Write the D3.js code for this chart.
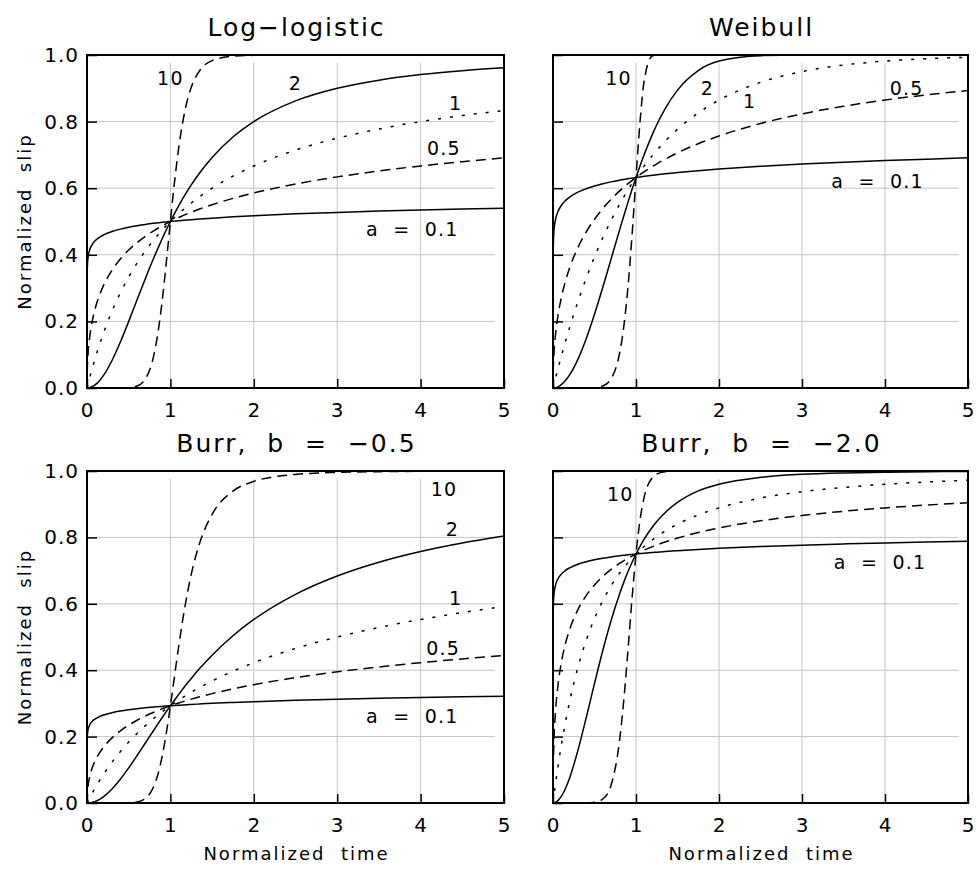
<!DOCTYPE html>
<html>
<head>
<meta charset="utf-8">
<script src="https://cdn.jsdelivr.net/npm/d3@7"></script>
<style>
  html, body { margin: 0; padding: 0; background: #fff; }
  svg text { font-family: "DejaVu Sans", "Liberation Sans", sans-serif; fill: #000; }
</style>
</head>
<body>
<svg id="chart" width="979" height="871"></svg>
<script>
// ---------------- data ----------------
const times = [0, 0.001, 0.01, 0.03, 0.06, 0.1, 0.15, 0.2, 0.3, 0.4, 0.5, 0.6, 0.7, 0.8, 0.85, 0.9, 0.95, 1, 1.05, 1.1, 1.2, 1.25, 1.35, 1.5, 1.75, 2, 2.5, 3, 3.5, 4, 4.5, 5];

const xTicks = [0, 1, 2, 3, 4, 5];
const yTicks = [0, 0.2, 0.4, 0.6, 0.8, 1.0];

const panelTitles = ["Log\u2212logistic", "Weibull", "Burr,  b  =  \u22120.5", "Burr,  b  =  \u22122.0"];
const shapeParams = ["0.1", "0.5", "1", "2", "10"];

// Log-logistic
const llA01 = [0, 0.3339, 0.3869, 0.4132, 0.4301, 0.4427, 0.4527, 0.4598, 0.4699, 0.4771, 0.4827, 0.4872, 0.4911, 0.4944, 0.4959, 0.4974, 0.4987, 0.5, 0.5012, 0.5024, 0.5046, 0.5056, 0.5075, 0.5101, 0.5140, 0.5173, 0.5229, 0.5274, 0.5313, 0.5346, 0.5375, 0.5401];
const llA05 = [0, 0.0306, 0.0909, 0.1476, 0.1967, 0.2402, 0.2792, 0.3090, 0.3539, 0.3874, 0.4142, 0.4365, 0.4555, 0.4721, 0.4797, 0.4868, 0.4936, 0.5, 0.5061, 0.5119, 0.5228, 0.5279, 0.5374, 0.5505, 0.5695, 0.5858, 0.6126, 0.6340, 0.6517, 0.6667, 0.6796, 0.6910];
const llA1  = [0, 0.0010, 0.0099, 0.0291, 0.0566, 0.0909, 0.1304, 0.1667, 0.2308, 0.2857, 0.3333, 0.3750, 0.4118, 0.4444, 0.4595, 0.4737, 0.4872, 0.5, 0.5122, 0.5238, 0.5455, 0.5556, 0.5745, 0.6, 0.6364, 0.6667, 0.7143, 0.75, 0.7778, 0.8, 0.8182, 0.8333];
const llA2  = [0, 0, 0.0001, 0.0009, 0.0036, 0.0099, 0.0220, 0.0385, 0.0826, 0.1379, 0.2, 0.2647, 0.3289, 0.3902, 0.4194, 0.4475, 0.4744, 0.5, 0.5244, 0.5475, 0.5902, 0.6098, 0.6457, 0.6923, 0.7538, 0.8, 0.8621, 0.9, 0.9245, 0.9412, 0.9529, 0.9615];
const llA10 = [0, 0, 0, 0, 0, 0, 0, 0, 0, 0.0001, 0.0010, 0.0060, 0.0274, 0.0970, 0.1645, 0.2586, 0.3745, 0.5, 0.6196, 0.7217, 0.8610, 0.9030, 0.9526, 0.9830, 0.9963, 0.9990, 1, 1, 1, 1, 1, 1];

// Weibull
const wbA01 = [0, 0.3942, 0.4679, 0.5055, 0.5299, 0.5481, 0.5627, 0.5731, 0.5880, 0.5985, 0.6066, 0.6133, 0.6190, 0.6239, 0.6262, 0.6283, 0.6302, 0.6321, 0.6339, 0.6356, 0.6388, 0.6403, 0.6432, 0.6470, 0.6527, 0.6576, 0.6657, 0.6724, 0.6780, 0.6829, 0.6872, 0.6911];
const wbA05 = [0, 0.0311, 0.0952, 0.1590, 0.2172, 0.2711, 0.3211, 0.3606, 0.4217, 0.4687, 0.5069, 0.5391, 0.5669, 0.5911, 0.6023, 0.6128, 0.6227, 0.6321, 0.6411, 0.6496, 0.6656, 0.6731, 0.6871, 0.7062, 0.7336, 0.7569, 0.7942, 0.8231, 0.8460, 0.8647, 0.8801, 0.8931];
const wbA1  = [0, 0.0010, 0.0100, 0.0296, 0.0582, 0.0952, 0.1393, 0.1813, 0.2592, 0.3297, 0.3935, 0.4512, 0.5034, 0.5507, 0.5726, 0.5934, 0.6133, 0.6321, 0.6501, 0.6671, 0.6988, 0.7135, 0.7408, 0.7769, 0.8262, 0.8647, 0.9179, 0.9502, 0.9698, 0.9817, 0.9889, 0.9933];
const wbA2  = [0, 0, 0.0001, 0.0009, 0.0036, 0.0100, 0.0223, 0.0392, 0.0861, 0.1479, 0.2212, 0.3023, 0.3874, 0.4727, 0.5144, 0.5551, 0.5944, 0.6321, 0.6679, 0.7018, 0.7631, 0.7904, 0.8384, 0.8946, 0.9532, 0.9817, 0.9981, 0.9999, 1, 1, 1, 1];
const wbA10 = [0, 0, 0, 0, 0, 0, 0, 0, 0, 0.0001, 0.0010, 0.0060, 0.0278, 0.1018, 0.1787, 0.2944, 0.4505, 0.6321, 0.8039, 0.9253, 0.9980, 0.9999, 1, 1, 1, 1, 1, 1, 1, 1, 1, 1];

// Burr, b = -0.5
const bu05A01 = [0, 0.1838, 0.2170, 0.2340, 0.2451, 0.2535, 0.2602, 0.2650, 0.2719, 0.2769, 0.2807, 0.2839, 0.2866, 0.2890, 0.2900, 0.2910, 0.2920, 0.2929, 0.2938, 0.2946, 0.2961, 0.2969, 0.2982, 0.3001, 0.3028, 0.3053, 0.3093, 0.3126, 0.3154, 0.3178, 0.3200, 0.3219];
const bu05A05 = [0, 0.0154, 0.0465, 0.0767, 0.1037, 0.1284, 0.1510, 0.1687, 0.1962, 0.2173, 0.2346, 0.2493, 0.2621, 0.2735, 0.2787, 0.2837, 0.2884, 0.2929, 0.2972, 0.3014, 0.3092, 0.3129, 0.3199, 0.3295, 0.3439, 0.3564, 0.3776, 0.3950, 0.4098, 0.4226, 0.4340, 0.4441];
const bu05A1  = [0, 0.0005, 0.0050, 0.0147, 0.0287, 0.0465, 0.0675, 0.0871, 0.1229, 0.1548, 0.1835, 0.2094, 0.2330, 0.2546, 0.2648, 0.2745, 0.2839, 0.2929, 0.3016, 0.3099, 0.3258, 0.3333, 0.3477, 0.3675, 0.3970, 0.4226, 0.4655, 0.5, 0.5286, 0.5528, 0.5736, 0.5918];
const bu05A2  = [0, 0, 0, 0.0004, 0.0018, 0.0050, 0.0111, 0.0194, 0.0422, 0.0715, 0.1056, 0.1425, 0.1808, 0.2191, 0.2381, 0.2567, 0.2750, 0.2929, 0.3103, 0.3273, 0.3598, 0.3753, 0.4048, 0.4453, 0.5039, 0.5528, 0.6286, 0.6838, 0.7253, 0.7575, 0.7831, 0.8039];
const bu05A10 = [0, 0, 0, 0, 0, 0, 0, 0, 0, 0.0001, 0.0005, 0.0030, 0.0138, 0.0497, 0.0859, 0.1389, 0.2091, 0.2929, 0.3832, 0.4725, 0.6271, 0.6886, 0.7823, 0.8694, 0.9392, 0.9688, 0.9898, 0.9959, 0.9981, 0.9990, 0.9995, 0.9997];

// Burr, b = -2.0
const bu2A01 = [0, 0.5563, 0.6241, 0.6557, 0.6753, 0.6894, 0.7005, 0.7082, 0.7190, 0.7266, 0.7324, 0.7371, 0.7410, 0.7444, 0.7459, 0.7474, 0.7487, 0.75, 0.7512, 0.7524, 0.7545, 0.7556, 0.7575, 0.7600, 0.7638, 0.7670, 0.7724, 0.7767, 0.7803, 0.7834, 0.7861, 0.7885];
const bu2A05 = [0, 0.0603, 0.1736, 0.2735, 0.3547, 0.4228, 0.4804, 0.5225, 0.5825, 0.6248, 0.6569, 0.6825, 0.7036, 0.7214, 0.7293, 0.7367, 0.7435, 0.75, 0.7561, 0.7618, 0.7722, 0.7771, 0.7860, 0.7980, 0.8147, 0.8284, 0.8499, 0.8660, 0.8787, 0.8889, 0.8974, 0.9045];
const bu2A1  = [0, 0.0020, 0.0197, 0.0574, 0.1100, 0.1736, 0.2439, 0.3056, 0.4083, 0.4898, 0.5556, 0.6094, 0.6540, 0.6914, 0.7078, 0.7230, 0.7370, 0.75, 0.7620, 0.7732, 0.7934, 0.8025, 0.8189, 0.84, 0.8678, 0.8889, 0.9184, 0.9375, 0.9506, 0.96, 0.9669, 0.9722];
const bu2A2  = [0, 0, 0.0002, 0.0018, 0.0072, 0.0197, 0.0435, 0.0754, 0.1583, 0.2568, 0.36, 0.4593, 0.5496, 0.6282, 0.6630, 0.6948, 0.7237, 0.75, 0.7738, 0.7953, 0.8320, 0.8477, 0.8745, 0.9053, 0.9401, 0.96, 0.9810, 0.99, 0.9943, 0.9965, 0.9978, 0.9985];
const bu2A10 = [0, 0, 0, 0, 0, 0, 0, 0, 0, 0.0002, 0.0020, 0.0120, 0.0541, 0.1845, 0.3020, 0.4502, 0.6087, 0.75, 0.8553, 0.9226, 0.9807, 0.9906, 0.9978, 0.9997, 1, 1, 1, 1, 1, 1, 1, 1];

// curve labels: [text, time, slip]
const llLabels  = [["10", 1.0, 0.93], ["2", 2.5, 0.915], ["1", 4.42, 0.855], ["0.5", 4.28, 0.72], ["a  =  0.1", 3.9, 0.475]];
const wbLabels  = [["10", 0.79, 0.93], ["2", 1.86, 0.9], ["1", 2.37, 0.86], ["0.5", 4.26, 0.9], ["a  =  0.1", 3.91, 0.62]];
const bu05Labels = [["10", 4.28, 0.945], ["2", 4.38, 0.825], ["1", 4.42, 0.615], ["0.5", 4.27, 0.465], ["a  =  0.1", 3.9, 0.26]];
const bu2Labels = [["10", 0.81, 0.93], ["a  =  0.1", 3.94, 0.725]];

// ---------------- layout ----------------
const panels = [
  { title: panelTitles[0], series: [llA01, llA05, llA1, llA2, llA10], labels: llLabels, x0: 87, x1: 504, y0: 55, y1: 388, left: true, bottom: false },
  { title: panelTitles[1], series: [wbA01, wbA05, wbA1, wbA2, wbA10], labels: wbLabels, x0: 553, x1: 968, y0: 55, y1: 388, left: false, bottom: false },
  { title: panelTitles[2], series: [bu05A01, bu05A05, bu05A1, bu05A2, bu05A10], labels: bu05Labels, x0: 87, x1: 504, y0: 471, y1: 803, left: true, bottom: true },
  { title: panelTitles[3], series: [bu2A01, bu2A05, bu2A1, bu2A2, bu2A10], labels: bu2Labels, x0: 553, x1: 968, y0: 471, y1: 803, left: false, bottom: true }
];
// line style per shape parameter a = 0.1, 0.5, 1, 2, 10
const dashes = [null, "10,6", "3,9", null, "10,6"];

const svg = d3.select("#chart");

panels.forEach(p => {
  const x = d3.scaleLinear().domain([0, 5]).range([p.x0, p.x1]);
  const y = d3.scaleLinear().domain([0, 1]).range([p.y1, p.y0]);
  const g = svg.append("g");

  // grid
  g.append("g").selectAll("line").data(xTicks.slice(1, -1)).join("line")
    .attr("x1", d => x(d)).attr("x2", d => x(d))
    .attr("y1", y(0)).attr("y2", y(1) + 8)
    .attr("stroke", "#c4c4c4").attr("stroke-width", 1);
  g.append("g").selectAll("line").data(yTicks.slice(1, -1)).join("line")
    .attr("x1", x(0)).attr("x2", x(5) - 9)
    .attr("y1", d => y(d)).attr("y2", d => y(d))
    .attr("stroke", "#c4c4c4").attr("stroke-width", 1);

  // curves
  const line = d3.line().x((d, i) => x(times[i])).y(d => y(d)).curve(d3.curveMonotoneX);
  p.series.forEach((s, k) => {
    g.append("path").datum(s).attr("d", line)
      .attr("fill", "none").attr("stroke", "#000").attr("stroke-width", 1.5)
      .attr("stroke-dasharray", dashes[k]);
  });

  // axes
  const xAxis = d3.axisBottom(x).tickValues(xTicks).tickSize(-9).tickPadding(15).tickFormat(d3.format("d"));
  const gx = g.append("g").attr("transform", `translate(0,${y(0)})`).call(xAxis);
  const yAxis = d3.axisLeft(y).tickValues(yTicks).tickSize(-10).tickPadding(8)
    .tickFormat(p.left ? d3.format(".1f") : () => "");
  const gy = g.append("g").attr("transform", `translate(${x(0)},0)`).call(yAxis);
  [gx, gy].forEach(a => {
    a.select(".domain").remove();
    a.selectAll(".tick line").attr("stroke", "#000").attr("stroke-width", 1.5);
    a.selectAll(".tick text").attr("font-size", 20).attr("letter-spacing", 1).attr("fill", "#000");
  });

  // frame
  g.append("rect").attr("x", x(0)).attr("y", y(1)).attr("width", x(5) - x(0)).attr("height", y(0) - y(1))
    .attr("fill", "none").attr("stroke", "#000").attr("stroke-width", 2);

  // title
  g.append("text").attr("x", (p.x0 + p.x1) / 2 + 1).attr("y", p.y0 - 19)
    .attr("text-anchor", "middle").attr("font-size", 25).attr("letter-spacing", 2)
    .style("white-space", "pre").text(p.title);

  // curve labels
  g.append("g").selectAll("text").data(p.labels).join("text")
    .attr("x", d => x(d[1])).attr("y", d => y(d[2]))
    .attr("dy", "0.35em").attr("text-anchor", "middle").attr("font-size", 19).attr("letter-spacing", 1.2)
    .style("white-space", "pre").text(d => d[0]);

  if (p.left) {
    g.append("text").attr("transform", `translate(31,${(p.y0 + p.y1) / 2}) rotate(-90)`)
      .attr("text-anchor", "middle").attr("font-size", 18).attr("letter-spacing", 2)
      .style("white-space", "pre").text("Normalized  slip");
  }
  if (p.bottom) {
    g.append("text").attr("x", (p.x0 + p.x1) / 2 + 1).attr("y", p.y1 + 57)
      .attr("text-anchor", "middle").attr("font-size", 18).attr("letter-spacing", 2)
      .style("white-space", "pre").text("Normalized  time");
  }
});
</script>
</body>
</html>
